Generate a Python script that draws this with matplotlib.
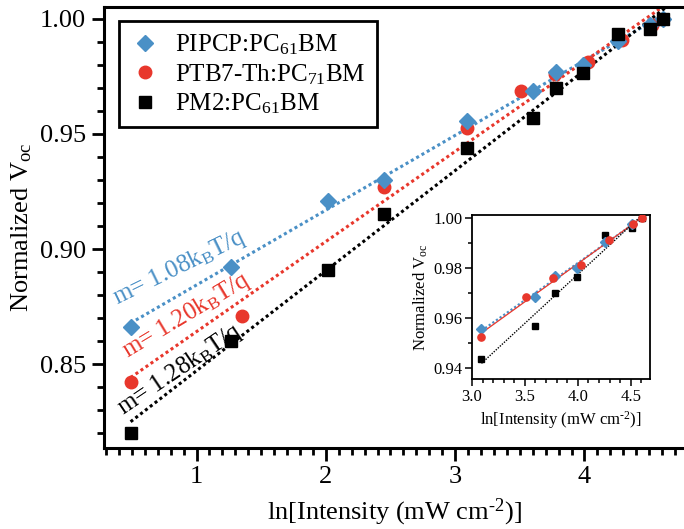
import numpy as np
import matplotlib
matplotlib.use("Agg")
import matplotlib.pyplot as plt
from matplotlib.ticker import MultipleLocator, FormatStrFormatter

plt.rcParams['font.family'] = ['Liberation Serif', 'DejaVu Serif']
plt.rcParams['mathtext.fontset'] = 'custom'
plt.rcParams['mathtext.rm'] = 'Liberation Serif'
plt.rcParams['mathtext.it'] = 'Liberation Serif:italic'

# ---- data ----
x_pipcp = [0.49, 1.27, 2.02, 2.45, 3.09, 3.60, 3.78, 3.99, 4.26, 4.51, 4.61]
y_pipcp = [0.866, 0.892, 0.921, 0.930, 0.9557, 0.9685, 0.9768, 0.9800, 0.9905, 0.9975, 1.000]

x_ptb7 = [0.49, 1.35, 2.45, 3.09, 3.51, 3.77, 4.03, 4.29, 4.52, 4.61]
y_ptb7 = [0.842, 0.871, 0.927, 0.9525, 0.9685, 0.9760, 0.9812, 0.9910, 0.9975, 1.000]

x_pm2 = [0.49, 1.27, 2.02, 2.45, 3.09, 3.60, 3.78, 3.99, 4.26, 4.51, 4.61]
y_pm2 = [0.820, 0.860, 0.891, 0.915, 0.9437, 0.9568, 0.9698, 0.9763, 0.9933, 0.9958, 1.000]

labels = ["PIPCP:PC$_{61}$BM", "PTB7-Th:PC$_{71}$BM", "PM2:PC$_{61}$BM"]
slope_texts = ["m= 1.08k$_\\mathrm{B}$T/q", "m= 1.20k$_\\mathrm{B}$T/q", "m= 1.28k$_\\mathrm{B}$T/q"]
xlabel_text = "ln[Intensity (mW cm$^{\u2010\\mathrm{2}}$)]"
ylabel_text = "Normalized V$_{\\mathrm{oc}}$"

blue = '#4a90c6'
red = '#e8372c'
black = '#000000'

fig = plt.figure(figsize=(6.84, 5.29), dpi=100)
ax = fig.add_axes([0.152, 0.1531, 0.848, 0.8337])

series = [(x_pipcp, y_pipcp, blue, 'D', 8.5),
          (x_ptb7, y_ptb7, red, 'o', 9),
          (x_pm2, y_pm2, black, 's', 8.5)]

# fit lines
for xs, ys, c, m, ms in series:
    p = np.polyfit(xs, ys, 1)
    xl = np.array([min(xs), 4.62])
    ax.plot(xl, np.polyval(p, xl), linestyle=(0, (1, 1)), color=c, lw=2.2, zorder=2)

handles = {}
for i in [1, 0, 2]:
    xs, ys, c, m, ms = series[i]
    h, = ax.plot(xs, ys, linestyle='none', marker=m, color=c, ms=ms, zorder=3)
    handles[i] = h

leg = ax.legend([handles[0], handles[1], handles[2]], labels, loc='upper left',
                bbox_to_anchor=(0.026, 0.968), borderaxespad=0, fontsize=18,
                frameon=True, fancybox=False, edgecolor='black', framealpha=1,
                handlelength=1.2, handletextpad=0.6, labelspacing=0.2,
                borderpad=0.45)
leg.get_frame().set_linewidth(2.0)

# slope annotations
ax.text(0.388, 0.8757, slope_texts[0], color=blue, fontsize=18, rotation=26,
        rotation_mode='anchor', ha='left', va='baseline')
ax.text(0.465, 0.8526, slope_texts[1], color=red, fontsize=18, rotation=31,
        rotation_mode='anchor', ha='left', va='baseline')
ax.text(0.434, 0.8278, slope_texts[2], color=black, fontsize=18, rotation=34,
        rotation_mode='anchor', ha='left', va='baseline')

ax.set_xlim(0.284, 4.77)
ax.set_ylim(0.8135, 1.0052)
ax.xaxis.set_major_locator(MultipleLocator(1))
ax.xaxis.set_minor_locator(MultipleLocator(0.1))
ax.yaxis.set_major_locator(MultipleLocator(0.05))
ax.yaxis.set_minor_locator(MultipleLocator(0.01))
ax.yaxis.set_major_formatter(FormatStrFormatter('%.2f'))
ax.tick_params(which='both', direction='out', top=False, right=False, width=2.0, labelsize=19)
ax.tick_params(which='major', length=9, pad=4)
ax.tick_params(which='minor', length=5)
for s in ['left', 'bottom', 'top']:
    ax.spines[s].set_linewidth(2.2)
ax.spines['right'].set_visible(False)
ax.set_xlabel(xlabel_text, fontsize=19, labelpad=6)
ax.set_ylabel(ylabel_text, fontsize=19, labelpad=4)

# ---- inset ----
ix_pipcp = [3.09, 3.60, 3.78, 3.99, 4.26, 4.51]
iy_pipcp = [0.9557, 0.9685, 0.9768, 0.9800, 0.9905, 0.9975]
ix_ptb7 = [3.09, 3.51, 3.77, 4.03, 4.29, 4.52, 4.61]
iy_ptb7 = [0.9525, 0.9685, 0.9760, 0.9812, 0.9910, 0.9975, 1.000]
ix_pm2 = [3.09, 3.60, 3.78, 3.99, 4.26, 4.51, 4.61]
iy_pm2 = [0.9437, 0.9568, 0.9698, 0.9763, 0.9933, 0.9958, 1.000]

ins = fig.add_axes([0.690, 0.2836, 0.260, 0.310])
iseries = [(ix_pipcp, iy_pipcp, blue, 'D', 4.8, (0, (1, 1)), 1.6),
           (ix_ptb7, iy_ptb7, red, 'o', 5.2, '-', 0.9),
           (ix_pm2, iy_pm2, black, 's', 5.0, (0, (1, 1)), 1.0)]
for xs, ys, c, m, ms, ls, lw in iseries:
    p = np.polyfit(xs, ys, 1)
    xl = np.array([3.09, 4.62])
    ins.plot(xl, np.polyval(p, xl), linestyle=ls, color=c, lw=lw, zorder=2)
for i in [2, 0, 1]:
    xs, ys, c, m, ms, ls, lw = iseries[i]
    ins.plot(xs, ys, linestyle='none', marker=m, color=c, ms=ms, zorder=3)
ins.set_xlim(3.0, 4.68)
ins.set_ylim(0.9356, 1.0012)
ins.xaxis.set_major_locator(MultipleLocator(0.5))
ins.xaxis.set_minor_locator(MultipleLocator(0.1))
ins.yaxis.set_major_locator(MultipleLocator(0.02))
ins.yaxis.set_minor_locator(MultipleLocator(0.01))
ins.xaxis.set_major_formatter(FormatStrFormatter('%.1f'))
ins.yaxis.set_major_formatter(FormatStrFormatter('%.2f'))
ins.tick_params(which='both', direction='out', top=False, right=False, width=1.1, labelsize=12)
ins.tick_params(which='major', length=5, pad=2)
ins.tick_params(which='minor', length=3)
for s in ins.spines.values():
    s.set_linewidth(1.3)
ins.set_xlabel(xlabel_text, fontsize=12, labelpad=3)
ins.set_ylabel(ylabel_text, fontsize=12, labelpad=2)

fig.savefig("out.png", dpi=100)
